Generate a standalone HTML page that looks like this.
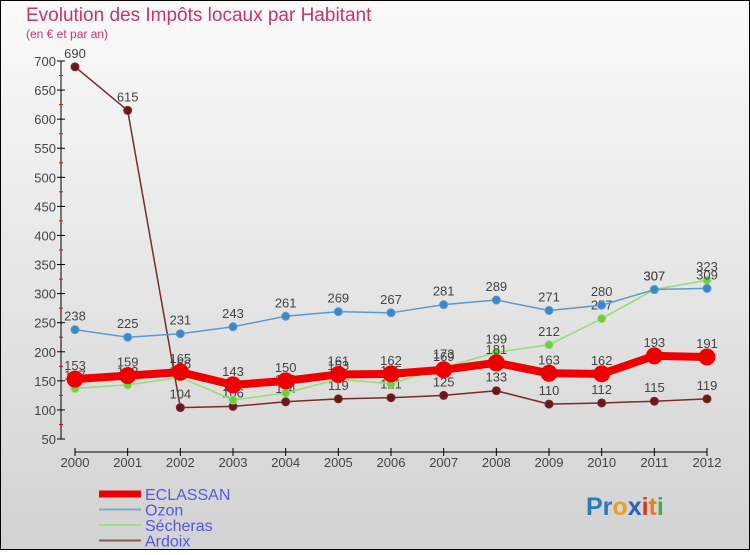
<!DOCTYPE html>
<html><head><meta charset="utf-8"><style>
html,body{margin:0;padding:0;}
body{width:750px;height:550px;overflow:hidden;font-family:"Liberation Sans",sans-serif;}
svg text{font-family:"Liberation Sans",sans-serif;}
</style></head><body>
<svg id="chart" width="750" height="550" xmlns="http://www.w3.org/2000/svg">
<defs><linearGradient id="bg" x1="0" y1="0" x2="0" y2="1"><stop offset="0" stop-color="#fafafa"/><stop offset="1" stop-color="#d2d2d2"/></linearGradient></defs>
<rect x="0.5" y="0.5" width="749" height="549" fill="url(#bg)" stroke="#000"/>
<text x="26" y="21" font-size="19" fill="#c8336a">Evolution des Impôts locaux par Habitant</text>
<text x="26" y="38" font-size="12" fill="#c8336a">(en € et par an)</text>
<g id="axes"></g>
<g id="series"></g>
<g id="legend"></g>
<text x="586" y="515" font-size="25" font-weight="bold"><tspan fill="#2a7ac0">Pr</tspan><tspan fill="#e8a020">o</tspan><tspan fill="#2a60c0">x</tspan><tspan fill="#e83020">i</tspan><tspan fill="#f07a20">t</tspan><tspan fill="#40b040">i</tspan></text>
</svg>
<script>
const years=[2000,2001,2002,2003,2004,2005,2006,2007,2008,2009,2010,2011,2012];
const eclassan=[153,159,165,143,150,161,162,169,181,163,162,193,191];
const ozon=[238,225,231,243,261,269,267,281,289,271,280,307,309];
const secheras=[137,143,156,117,129,153,145,173,199,212,257,307,323];
const ardoix=[690,615,104,106,114,119,121,125,133,110,112,115,119];
const yTicks=[50,100,150,200,250,300,350,400,450,500,550,600,650,700];
const NS="http://www.w3.org/2000/svg";
function X(i){return 75+i*(707-75)/(years.length-1);}
function Y(v){return 439-(v-50)*(439-61)/650;}
function mk(tag,attrs,parent){const e=document.createElementNS(NS,tag);for(const k in attrs)e.setAttribute(k,attrs[k]);parent.appendChild(e);return e;}
const axes=document.getElementById('axes');
let a=mk('line',{x1:61,y1:Y(700),x2:61,y2:Y(50),stroke:'#000'},axes);


a=mk('line',{x1:X(0),y1:452,x2:X(12),y2:452,stroke:'#000'},axes);


yTicks.forEach(v=>{
  mk('line',{x1:57,y1:Y(v),x2:65,y2:Y(v),stroke:'#000'},axes);
  if(v<700)mk('line',{x1:59,y1:Y(v+25),x2:63,y2:Y(v+25),stroke:'#e00'},axes);
  const t=mk('text',{x:56,y:Y(v)+5,'font-size':13,fill:'#444','text-anchor':'end'},axes);
  t.textContent=v;
  
  
});
years.forEach((yr,i)=>{
  mk('line',{x1:X(i),y1:448,x2:X(i),y2:456,stroke:'#000'},axes);
  const t=mk('text',{x:X(i),y:467,'font-size':13,fill:'#444','text-anchor':'middle'},axes);
  t.textContent=yr;
  
  
});
const ser=document.getElementById('series');
function draw(data,name,color,w,r,dot){
  const g=mk('g',{},ser);
  
  
  let d='';data.forEach((v,i)=>{d+=(i?'L':'M')+X(i)+','+Y(v);});
  mk('path',{d:d,fill:'none',stroke:color,'stroke-width':w,'stroke-linejoin':'round'},g);
  data.forEach((v,i)=>{
    const c=mk('circle',{cx:X(i),cy:Y(v),r:r,fill:dot,stroke:color,'stroke-width':1},g);
    
    
    const t=mk('text',{x:X(i),y:Y(v)-9,'font-size':13,fill:'#444','text-anchor':'middle'},g);
    t.textContent=v;
  });
}
draw(ardoix,'ardoix','#7a2a2a',1.5,4,'#6a1818');
draw(secheras,'secheras','#90e070',1.5,4,'#70cc40');
draw(ozon,'ozon','#5a9ad0',1.5,4,'#3a88cc');
draw(eclassan,'eclassan','#ee0000',8,8,'#ee0000');
const lg=document.getElementById('legend');
[['ECLASSAN','#ee0000',7],['Ozon','#7aaad0',2],['Sécheras','#98e080',2],['Ardoix','#8a5a5a',2]].forEach((e,i)=>{
  const y=494+i*15.5;
  const g=mk('g',{},lg);
  
  
  mk('line',{x1:99,y1:y,x2:141,y2:y,stroke:e[1],'stroke-width':e[2]},g);
  const t=mk('text',{x:145,y:y+6,'font-size':16,fill:'#5555ee'},g);
  t.textContent=e[0];
});
</script>
</body></html>
